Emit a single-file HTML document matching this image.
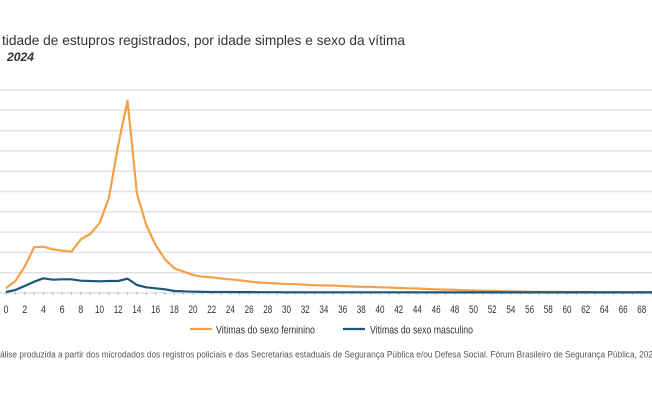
<!DOCTYPE html>
<html>
<head>
<meta charset="utf-8">
<style>
html,body{margin:0;padding:0;background:#fff;}
svg{display:block;}
text{font-family:"Liberation Sans",sans-serif;}
</style>
</head>
<body>
<svg width="652" height="408" viewBox="0 0 652 408" xmlns="http://www.w3.org/2000/svg">
<rect width="652" height="408" fill="#fff"/>
<!-- title -->
<text x="2" y="45" font-size="14" fill="#333" textLength="403" lengthAdjust="spacingAndGlyphs">tidade de estupros registrados, por idade simples e sexo da vítima</text>
<text x="7" y="61" font-size="12" font-weight="bold" font-style="italic" fill="#333" textLength="27" lengthAdjust="spacingAndGlyphs">2024</text>

<!-- gridlines -->
<g stroke="#e2e2e2" stroke-width="1.5">
<line x1="0" y1="90" x2="652" y2="90"/>
<line x1="0" y1="110.3" x2="652" y2="110.3"/>
<line x1="0" y1="130.6" x2="652" y2="130.6"/>
<line x1="0" y1="150.9" x2="652" y2="150.9"/>
<line x1="0" y1="171.2" x2="652" y2="171.2"/>
<line x1="0" y1="191.5" x2="652" y2="191.5"/>
<line x1="0" y1="211.8" x2="652" y2="211.8"/>
<line x1="0" y1="232.1" x2="652" y2="232.1"/>
<line x1="0" y1="252.4" x2="652" y2="252.4"/>
<line x1="0" y1="272.7" x2="652" y2="272.7"/>
<line x1="0" y1="293" x2="652" y2="293"/>
</g>

<!-- tick marks -->
<g stroke="#b3bcc2" stroke-width="1">
<path d="M6 292v3M15.35 292v3M24.7 292v3M34.05 292v3M43.4 292v3M52.75 292v3M62.1 292v3M71.45 292v3M80.8 292v3M90.15 292v3M99.5 292v3M108.85 292v3M118.2 292v3M127.55 292v3M136.9 292v3M146.25 292v3M155.6 292v3M164.95 292v3M174.3 292v3M183.65 292v3M193 292v3M202.35 292v3M211.7 292v3M221.05 292v3M230.4 292v3M239.75 292v3M249.1 292v3M258.45 292v3M267.8 292v3M277.15 292v3M286.5 292v3M295.85 292v3M305.2 292v3M314.55 292v3M323.9 292v3M333.25 292v3M342.6 292v3M351.95 292v3M361.3 292v3M370.65 292v3M380 292v3M389.35 292v3M398.7 292v3M408.05 292v3M417.4 292v3M426.75 292v3M436.1 292v3M445.45 292v3M454.8 292v3M464.15 292v3M473.5 292v3M482.85 292v3M492.2 292v3M501.55 292v3M510.9 292v3M520.25 292v3M529.6 292v3M538.95 292v3M548.3 292v3M557.65 292v3M567 292v3M576.35 292v3M585.7 292v3M595.05 292v3M604.4 292v3M613.75 292v3M623.1 292v3M632.45 292v3M641.8 292v3M651.15 292v3"/>
</g>

<!-- orange series -->
<polyline fill="none" stroke="#F4A04A" stroke-width="2.2" stroke-linejoin="round" points="
6,288.3 15.35,281 24.7,266.7 34.05,247.3 43.4,246.7 52.75,249.3 62.1,250.7 71.45,251.7 80.8,239.3 90.15,234 99.5,223.3 108.85,198.3 118.2,145 127.55,100.7 136.9,193.3 146.25,225 155.6,245 164.95,259.3 174.3,268.3 183.65,271.7 193,275 202.35,276.7 211.7,277.3 221.05,278.5 230.4,279.3 239.75,280.3 249.1,281.5 258.45,282.5 267.8,283 277.15,283.5 286.5,284 295.85,284.2 305.2,284.7 314.55,285.2 323.9,285.5 333.25,285.5 342.6,286 351.95,286.5 361.3,286.8 370.65,286.8 380,287.3 389.35,287.5 398.7,288 408.05,288.3 417.4,288.5 426.75,289 436.1,289.3 445.45,289.6 454.8,289.8 464.15,290.2 473.5,290.5 482.85,290.8 492.2,291 501.55,291.2 510.9,291.4 520.25,291.6 529.6,291.7 538.95,291.8 548.3,291.9 557.65,291.9 567,292 576.35,292 585.7,292 595.05,292.1 604.4,292.1 613.75,292.1 623.1,292.2 632.45,292.2 641.8,292.2 651.15,292.2 660.5,292.2"/>

<!-- blue series -->
<polyline fill="none" stroke="#1C5777" stroke-width="2.2" stroke-linejoin="round" points="
6,292 15.35,290 24.7,286 34.05,281.7 43.4,278.3 52.75,279.7 62.1,279.3 71.45,279.3 80.8,280.7 90.15,281 99.5,281.3 108.85,281 118.2,281 127.55,278.7 136.9,285 146.25,287.3 155.6,288.3 164.95,289.3 174.3,291 183.65,291.3 193,291.7 202.35,291.9 211.7,292 221.05,292 230.4,292 239.75,292.1 249.1,292.1 258.45,292.2 267.8,292.2 277.15,292.2 286.5,292.3 295.85,292.3 305.2,292.3 660.5,292.4"/>

<!-- x labels -->
<g font-size="11" fill="#333" text-anchor="middle">
<text x="6" y="313" textLength="5" lengthAdjust="spacingAndGlyphs">0</text>
<text x="24.7" y="313" textLength="5" lengthAdjust="spacingAndGlyphs">2</text>
<text x="43.4" y="313" textLength="5" lengthAdjust="spacingAndGlyphs">4</text>
<text x="62.1" y="313" textLength="5" lengthAdjust="spacingAndGlyphs">6</text>
<text x="80.8" y="313" textLength="5" lengthAdjust="spacingAndGlyphs">8</text>
<text x="99.5" y="313" textLength="9" lengthAdjust="spacingAndGlyphs">10</text>
<text x="118.2" y="313" textLength="9" lengthAdjust="spacingAndGlyphs">12</text>
<text x="136.9" y="313" textLength="9" lengthAdjust="spacingAndGlyphs">14</text>
<text x="155.6" y="313" textLength="9" lengthAdjust="spacingAndGlyphs">16</text>
<text x="174.3" y="313" textLength="9" lengthAdjust="spacingAndGlyphs">18</text>
<text x="193" y="313" textLength="9" lengthAdjust="spacingAndGlyphs">20</text>
<text x="211.7" y="313" textLength="9" lengthAdjust="spacingAndGlyphs">22</text>
<text x="230.4" y="313" textLength="9" lengthAdjust="spacingAndGlyphs">24</text>
<text x="249.1" y="313" textLength="9" lengthAdjust="spacingAndGlyphs">26</text>
<text x="267.8" y="313" textLength="9" lengthAdjust="spacingAndGlyphs">28</text>
<text x="286.5" y="313" textLength="9" lengthAdjust="spacingAndGlyphs">30</text>
<text x="305.2" y="313" textLength="9" lengthAdjust="spacingAndGlyphs">32</text>
<text x="323.9" y="313" textLength="9" lengthAdjust="spacingAndGlyphs">34</text>
<text x="342.6" y="313" textLength="9" lengthAdjust="spacingAndGlyphs">36</text>
<text x="361.3" y="313" textLength="9" lengthAdjust="spacingAndGlyphs">38</text>
<text x="380" y="313" textLength="9" lengthAdjust="spacingAndGlyphs">40</text>
<text x="398.7" y="313" textLength="9" lengthAdjust="spacingAndGlyphs">42</text>
<text x="417.4" y="313" textLength="9" lengthAdjust="spacingAndGlyphs">44</text>
<text x="436.1" y="313" textLength="9" lengthAdjust="spacingAndGlyphs">46</text>
<text x="454.8" y="313" textLength="9" lengthAdjust="spacingAndGlyphs">48</text>
<text x="473.5" y="313" textLength="9" lengthAdjust="spacingAndGlyphs">50</text>
<text x="492.2" y="313" textLength="9" lengthAdjust="spacingAndGlyphs">52</text>
<text x="510.9" y="313" textLength="9" lengthAdjust="spacingAndGlyphs">54</text>
<text x="529.6" y="313" textLength="9" lengthAdjust="spacingAndGlyphs">56</text>
<text x="548.3" y="313" textLength="9" lengthAdjust="spacingAndGlyphs">58</text>
<text x="567" y="313" textLength="9" lengthAdjust="spacingAndGlyphs">60</text>
<text x="585.7" y="313" textLength="9" lengthAdjust="spacingAndGlyphs">62</text>
<text x="604.4" y="313" textLength="9" lengthAdjust="spacingAndGlyphs">64</text>
<text x="623.1" y="313" textLength="9" lengthAdjust="spacingAndGlyphs">66</text>
<text x="641.8" y="313" textLength="9" lengthAdjust="spacingAndGlyphs">68</text>
</g>

<!-- legend -->
<line x1="190" y1="329" x2="212" y2="329" stroke="#F4A04A" stroke-width="2.2"/>
<text x="216" y="333.5" font-size="11" fill="#333" textLength="99" lengthAdjust="spacingAndGlyphs">Vitimas do sexo feminino</text>
<line x1="343" y1="329" x2="365" y2="329" stroke="#1C5777" stroke-width="2.2"/>
<text x="370" y="333.5" font-size="11" fill="#333" textLength="103" lengthAdjust="spacingAndGlyphs">Vitimas do sexo masculino</text>

<!-- footnote -->
<text x="0" y="357.5" font-size="9.5" fill="#555" textLength="653" lengthAdjust="spacingAndGlyphs">álise produzida a partir dos microdados dos registros policiais e das Secretarias estaduais de Segurança Pública e/ou Defesa Social. Fórum Brasileiro de Segurança Pública, 202</text>
</svg>
</body>
</html>
